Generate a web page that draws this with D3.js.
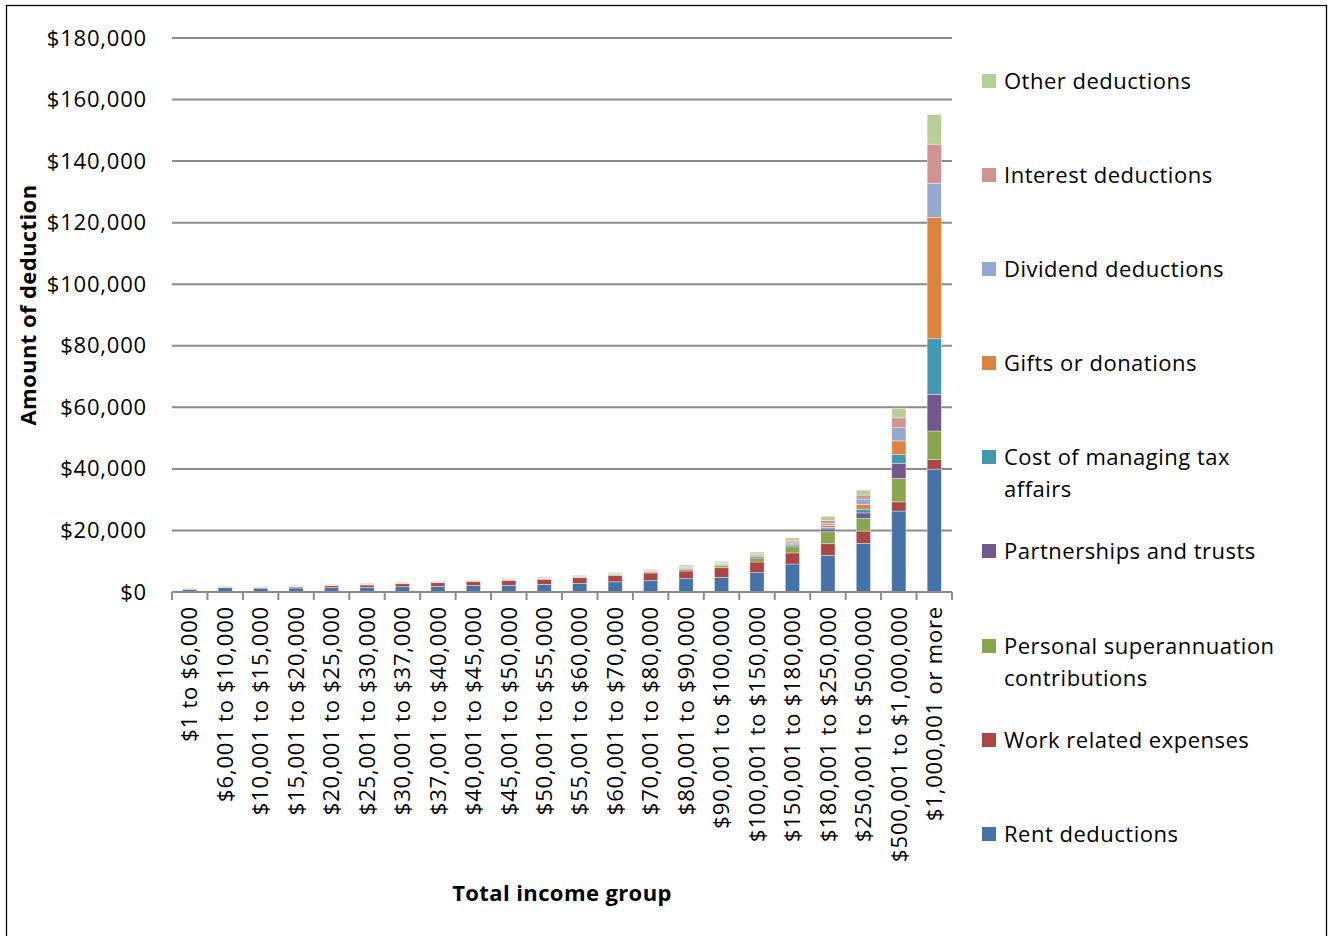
<!DOCTYPE html>
<html>
<head>
<meta charset="utf-8">
<script src="https://cdn.jsdelivr.net/npm/d3@7"></script>
<style>
  html, body { margin: 0; padding: 0; background: #ffffff; }
  svg { display: block; }
  text { font-family: "Open Sans", "Noto Sans", sans-serif; fill: #000; }
</style>
</head>
<body>
<svg id="chart" width="1330" height="936"></svg>
<script>
// Income groups (x categories)
const categories = [
  "$1 to $6,000", "$6,001 to $10,000", "$10,001 to $15,000", "$15,001 to $20,000",
  "$20,001 to $25,000", "$25,001 to $30,000", "$30,001 to $37,000", "$37,001 to $40,000",
  "$40,001 to $45,000", "$45,001 to $50,000", "$50,001 to $55,000", "$55,001 to $60,000",
  "$60,001 to $70,000", "$70,001 to $80,000", "$80,001 to $90,000", "$90,001 to $100,000",
  "$100,001 to $150,000", "$150,001 to $180,000", "$180,001 to $250,000", "$250,001 to $500,000",
  "$500,001 to $1,000,000", "$1,000,001 or more"
];

// Average deduction amounts ($) by type, one value per income group
const rentDeductions        = [870,1400,1100,1300,1410,1520,1730,1840,2170,2170,2490,2820,3300,3680,4330,4770,6300,9100,11900,15800,26300,39900];
const workRelatedExpenses   = [100,150,330,330,650,760,980,1190,1300,1620,1630,1840,2030,2500,2500,3140,3450,3600,3800,4000,3000,3200];
const superContributions    = [50,50,50,70,80,100,90,90,80,150,180,200,280,320,600,650,1300,2000,3900,4100,7600,9200];
const partnershipsTrusts    = [50,50,60,80,70,80,60,60,50,80,90,90,110,120,180,200,350,500,900,1800,4900,11900];
const costOfTaxAffairs      = [30,30,30,40,40,40,40,40,30,50,60,60,70,70,110,120,300,350,500,1200,2900,18100];
const giftsDonations        = [20,20,30,40,40,50,50,50,40,70,80,80,100,110,160,170,300,350,650,1500,4400,39400];
const dividendDeductions    = [50,70,70,90,90,110,80,80,60,110,120,120,150,150,250,260,300,400,650,1800,4300,11100];
const interestDeductions    = [80,100,100,120,110,130,110,110,80,140,150,150,180,190,300,320,300,500,900,1300,3200,12700];
const otherDeductions       = [50,80,80,110,110,140,110,110,90,160,180,170,210,230,350,350,400,800,1400,1600,3100,9600];

// Series names (stack order, bottom to top)
const seriesNames = [
  "Rent deductions", "Work related expenses", "Personal superannuation contributions",
  "Partnerships and trusts", "Cost of managing tax affairs", "Gifts or donations",
  "Dividend deductions", "Interest deductions", "Other deductions"
];
const seriesValues = [
  rentDeductions, workRelatedExpenses, superContributions, partnershipsTrusts,
  costOfTaxAffairs, giftsDonations, dividendDeductions, interestDeductions, otherDeductions
];
const seriesColors = ["#4572A7", "#AA4643", "#89A54E", "#71588F", "#4198AF", "#DB843D", "#93A9CF", "#D19392", "#B9CD96"];

// Legend labels, possibly wrapped onto two lines
const legendLines = {
  "Cost of managing tax affairs": ["Cost of managing tax", "affairs"],
  "Personal superannuation contributions": ["Personal superannuation", "contributions"]
};

const yTicks = [0, 20000, 40000, 60000, 80000, 100000, 120000, 140000, 160000, 180000];

// Build rows for the stack layout
const rows = categories.map((c, i) => {
  const r = { category: c };
  seriesNames.forEach((s, k) => { r[s] = seriesValues[k][i]; });
  return r;
});

const svg = d3.select("#chart");
const W = 1330, H = 936;
const plot = { left: 172, right: 952, top: 38, bottom: 592 };

svg.append("rect").attr("width", W).attr("height", H).attr("fill", "#fff");
// Outer chart frame
svg.append("rect")
  .attr("x", 6.5).attr("y", 5.5).attr("width", 1320).attr("height", 940)
  .attr("fill", "none").attr("stroke", "#000").attr("stroke-width", 1.3);

const x = d3.scaleBand()
  .domain(categories)
  .range([plot.left, plot.right])
  .paddingInner(0.6)
  .paddingOuter(0.3);

const y = d3.scaleLinear().domain([0, 180000]).range([plot.bottom, plot.top]);

// Horizontal gridlines
svg.append("g")
  .selectAll("line")
  .data(yTicks.filter(t => t > 0))
  .join("line")
  .attr("x1", plot.left).attr("x2", plot.right)
  .attr("y1", d => y(d)).attr("y2", d => y(d))
  .attr("stroke", "#8c8c8c").attr("stroke-width", 2);

// Y axis labels
const yAxis = d3.axisLeft(y).tickValues(yTicks).tickSize(0).tickPadding(25)
  .tickFormat(d => "$" + d3.format(",")(d));
const gy = svg.append("g").attr("transform", `translate(${plot.left},0)`).call(yAxis);
gy.select(".domain").remove();
gy.selectAll("text")
  .style("font-family", "'Open Sans', sans-serif")
  .style("font-size", "22px")
  .style("letter-spacing", "0.8px")
  .attr("fill", "#000");

// Stacked bars
const stack = d3.stack().keys(seriesNames);
const stacked = stack(rows);

svg.append("g")
  .selectAll("g")
  .data(stacked)
  .join("g")
  .attr("fill", (d, i) => seriesColors[i])
  .selectAll("rect")
  .data(d => d)
  .join("rect")
  .attr("x", d => x(d.data.category))
  .attr("width", x.bandwidth())
  .attr("y", d => y(d[1]))
  .attr("height", d => Math.max(0, y(d[0]) - y(d[1])))
  .attr("stroke", "rgba(255,255,255,0.45)")
  .attr("stroke-width", 0.8);

// X axis line with category boundary ticks
svg.append("line")
  .attr("x1", plot.left).attr("x2", plot.right)
  .attr("y1", plot.bottom).attr("y2", plot.bottom)
  .attr("stroke", "#8c8c8c").attr("stroke-width", 2);
const boundaries = d3.range(categories.length + 1).map(i => plot.left + i * (plot.right - plot.left) / categories.length);
svg.append("g")
  .selectAll("line")
  .data(boundaries)
  .join("line")
  .attr("x1", d => d).attr("x2", d => d)
  .attr("y1", plot.bottom).attr("y2", plot.bottom + 8)
  .attr("stroke", "#8c8c8c").attr("stroke-width", 2);

// Category labels, rotated
svg.append("g")
  .selectAll("text")
  .data(categories)
  .join("text")
  .attr("transform", d => `translate(${x(d) + x.bandwidth() / 2},606) rotate(-90)`)
  .attr("text-anchor", "end")
  .attr("dy", "0.35em")
  .style("font-size", "22px")
  .style("letter-spacing", "0.8px")
  .text(d => d);

// Axis titles
svg.append("text")
  .attr("transform", "translate(28,305) rotate(-90)")
  .attr("text-anchor", "middle")
  .attr("dy", "0.35em")
  .style("font-size", "22px")
  .style("font-weight", "bold")
  .style("letter-spacing", "0.4px")
  .text("Amount of deduction");

svg.append("text")
  .attr("x", 562).attr("y", 893)
  .attr("text-anchor", "middle")
  .attr("dy", "0.35em")
  .style("font-size", "22px")
  .style("font-weight", "bold")
  .style("letter-spacing", "0.4px")
  .text("Total income group");

// Legend (top entry is the top of the stack)
const legendY = [81, 175, 269, 363, 457, 551, 646, 740, 834];
const legendOrder = seriesNames.slice().reverse();
const lg = svg.append("g");
legendOrder.forEach((name, i) => {
  const k = seriesNames.indexOf(name);
  const cy = legendY[i];
  lg.append("rect")
    .attr("x", 982).attr("y", cy - 7).attr("width", 14).attr("height", 14)
    .attr("fill", seriesColors[k]);
  const lines = legendLines[name] || [name];
  const t = lg.append("text")
    .attr("x", 1004).attr("y", cy)
    .style("font-size", "22px")
    .style("letter-spacing", "0.5px");
  lines.forEach((ln, j) => {
    t.append("tspan").attr("x", 1004).attr("y", cy + j * 32).attr("dy", "0.35em").text(ln);
  });
});
</script>
</body>
</html>
